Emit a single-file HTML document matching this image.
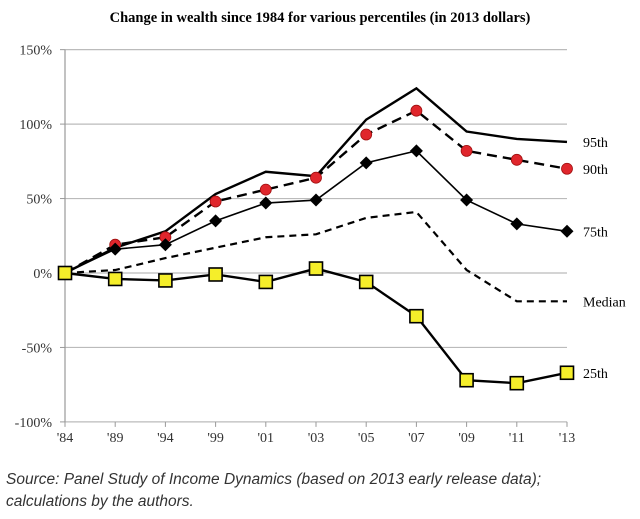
<!DOCTYPE html>
<html><head><meta charset="utf-8"><style>
body{margin:0;background:#fff;width:640px;height:519px;overflow:hidden}
svg{display:block}
</style></head><body>
<svg width="640" height="519">
<text x="320" y="22" text-anchor="middle" font-family="Liberation Serif, serif" font-weight="bold" font-size="14.5">Change in wealth since 1984 for various percentiles (in 2013 dollars)</text>
<g id="grid"></g><g id="axes"></g><g id="series"></g>
<text x="6" y="484" font-family="Liberation Sans, sans-serif" font-style="italic" font-size="15.5" fill="#333">Source: Panel Study of Income Dynamics (based on 2013 early release data);</text>
<text x="6" y="506" font-family="Liberation Sans, sans-serif" font-style="italic" font-size="15.5" fill="#333">calculations by the authors.</text>
</svg>
<script>
const years=["'84","'89","'94","'99","'01","'03","'05","'07","'09","'11","'13"];
const yTicks=[150,100,50,0,-50,-100];
const p95=[0,17,28,53,68,65,103,124,95,90,88];
const p90=[0,19,24,48,56,64,93,109,82,76,70];
const p75=[0,16,19,35,47,49,74,82,49,33,28];
const median=[0,2,10,17,24,26,37,41,2,-19,-19];
const p25=[0,-4,-5,-1,-6,3,-6,-29,-72,-74,-67];
const NS='http://www.w3.org/2000/svg';
const x0=65,x1=567,y0=273,ppu=1.489;
const X=i=>x0+i*(x1-x0)/(years.length-1);
const Y=v=>y0-v*ppu;
function mk(tag,attrs,parent,text){const e=document.createElementNS(NS,tag);for(const k in attrs)e.setAttribute(k,attrs[k]);if(text!==undefined)e.textContent=text;document.getElementById(parent).appendChild(e);return e;}
yTicks.forEach(t=>{
 const l=mk('line',{x1:x0,x2:x1,y1:Y(t),y2:Y(t),stroke:'#bbb','stroke-width':1.2},'grid');
 
 
 const tx=mk('text',{x:52,y:Y(t)+5,'text-anchor':'end','font-family':'Liberation Serif, serif','font-size':'14',fill:'#333'},'axes',t+'%');
 
 
 mk('line',{x1:x0-5,x2:x0,y1:Y(t),y2:Y(t),stroke:'#999'},'axes');
});
mk('line',{x1:x0,x2:x0,y1:Y(150),y2:Y(-100),stroke:'#999','stroke-width':1.2},'axes');
years.forEach((y,i)=>{
 mk('line',{x1:X(i),x2:X(i),y1:Y(-100),y2:Y(-100)+5,stroke:'#999'},'axes');
 const tx=mk('text',{x:X(i),y:442,'text-anchor':'middle','font-family':'Liberation Serif, serif','font-size':'14',fill:'#333'},'axes',y);
 
 
});
function line(vals,name,w,dash){
 const d=vals.map((v,i)=>(i?'L':'M')+X(i)+','+Y(v)).join(' ');
 const p=mk('path',{d:d,fill:'none',stroke:'#000','stroke-width':w,'stroke-dasharray':dash||'none'},'series');
 
 
}
function label(vals,txt,name){
 const t=mk('text',{x:583,y:Y(vals[vals.length-1])+5,'font-family':'Liberation Serif, serif','font-size':'14'},'series',txt);
 
 
}
line(p95,'p95',2.4);label(p95,'95th','p95');
line(p90,'p90',2.4,'10,6');
p90.forEach((v,i)=>{if(i===0)return;const c=mk('circle',{cx:X(i),cy:Y(v),r:5.5,fill:'#e0262c',stroke:'#a01010','stroke-width':0.8},'series');
 
 });
label(p90,'90th','p90');
line(p75,'p75',1.6);
p75.forEach((v,i)=>{if(i===0)return;const s=6.5,cx=X(i),cy=Y(v);const d=mk('path',{d:`M${cx},${cy-s}L${cx+s},${cy}L${cx},${cy+s}L${cx-s},${cy}Z`,fill:'#000'},'series');
 
 });
label(p75,'75th','p75');
line(median,'median',2.2,'7,5');label(median,'Median','median');
line(p25,'p25',2.4);
p25.forEach((v,i)=>{const r=mk('rect',{x:X(i)-6.5,y:Y(v)-6.5,width:13,height:13,fill:'#f5ee2a',stroke:'#000','stroke-width':1.6},'series');
 
 });
label(p25,'25th','p25');
</script>
</body></html>
